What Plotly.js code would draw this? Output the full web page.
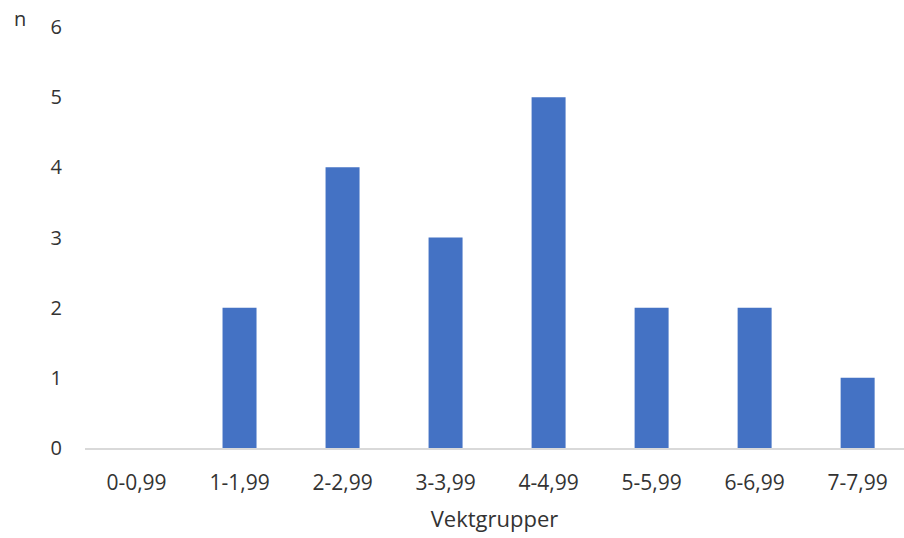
<!DOCTYPE html>
<html>
<head>
<meta charset="utf-8">
<script src="https://cdn.plot.ly/plotly-3.0.1.min.js"></script>
<style>html,body{margin:0;padding:0;background:#fff;}#chart{width:904px;height:538px;}</style>
</head>
<body>
<div id="chart"></div>
<script>
const categories = ["0-0,99","1-1,99","2-2,99","3-3,99","4-4,99","5-5,99","6-6,99","7-7,99"];
const counts = [0, 2, 4, 3, 5, 2, 2, 1];
const yTicks = [0, 1, 2, 3, 4, 5, 6];

const font = {family: "Open Sans, Noto Sans, sans-serif", size: 21, color: "#333333"};

Plotly.newPlot("chart", [{
  type: "bar",
  x: categories,
  y: counts,
  marker: {color: "#4472C4"},
  hoverinfo: "x+y"
}], {
  width: 904, height: 538,
  margin: {l: 85, r: 0, t: 27, b: 90},
  paper_bgcolor: "#fff", plot_bgcolor: "#fff",
  bargap: 0.67,
  font: font,
  showlegend: false,
  xaxis: {
    type: "category",
    range: [-0.5, 7.45],
    showline: true, linecolor: "#d9d9d9", linewidth: 1.5,
    showgrid: false, zeroline: false,
    ticks: "", ticklabelstandoff: 15,
    tickfont: font,
    title: {text: "Vektgrupper", font: {family: font.family, size: 22, color: font.color}, standoff: 17}
  },
  yaxis: {
    range: [0, 6],
    tickvals: yTicks,
    showgrid: false, zeroline: false, showline: false,
    ticks: "", ticklabelstandoff: 22,
    tickfont: {family: font.family, size: 20, color: font.color}
  },
  annotations: [{
    text: "n", xref: "paper", yref: "paper",
    x: -0.089, y: 1.021, xanchor: "left", yanchor: "middle",
    showarrow: false, font: {family: font.family, size: 20, color: font.color}
  }]
}, {displayModeBar: false, staticPlot: true});
</script>
</body>
</html>
